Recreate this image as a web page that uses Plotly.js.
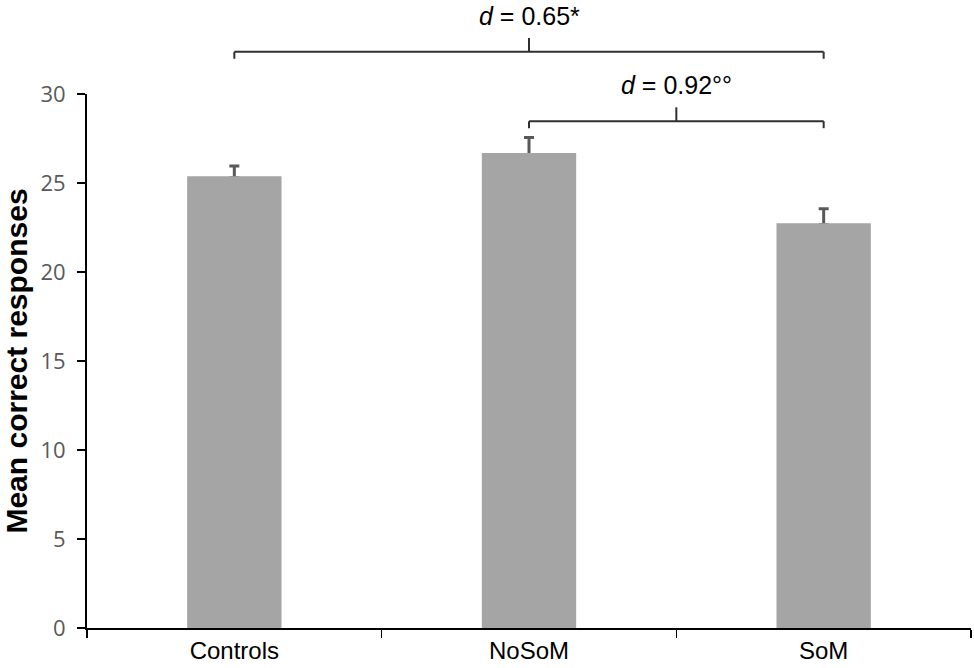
<!DOCTYPE html>
<html>
<head>
<meta charset="utf-8">
<script src="https://cdn.plot.ly/plotly-3.0.1.min.js"></script>
<style>
  html, body { margin: 0; padding: 0; background: #fff; }
  #chart { width: 974px; height: 668px; }
</style>
</head>
<body>
<div id="chart"></div>
<script>
let groups = ["Controls", "NoSoM", "SoM"];
let means = [25.3, 26.6, 22.65];
let errors = [0.65, 0.95, 0.9];
let y_ticks = [0, 5, 10, 15, 20, 25, 30];

// comparison brackets: from group, to group, label, level (paper units)
let bracket_from = ["Controls", "NoSoM"];
let bracket_to = ["SoM", "SoM"];
let bracket_text = ["<i>d</i> = 0.65*", "<i>d</i> = 0.92°°"];
let bracket_level = [1.079, 0.949];

let chart_holder = document.querySelector("#chart");
let bar_color = "#a5a5a5";

// bars with the plus-only error bars
let trace1 = {
    x: groups,
    y: means,
    type: "bar",
    width: 0.31,
    marker: { color: bar_color },
    error_y: {
        type: "data",
        symmetric: false,
        array: errors,
        arrayminus: [0, 0, 0],
        color: "#595959",
        thickness: 3,
        width: 5
    },
    hoverinfo: "none"
};

// same bars again on top, hides the lower cap of the error bar
let trace2 = {
    x: groups,
    y: means,
    type: "bar",
    width: 0.31,
    marker: { color: bar_color, line: { color: bar_color, width: 3 } },
    hoverinfo: "none"
};

let shapes = new Array();
let annotations = new Array();
let line_style = { color: "#303030", width: 2 };

for (let i = 0; i < bracket_from.length; i++) {
    let a = groups.indexOf(bracket_from[i]);
    let b = groups.indexOf(bracket_to[i]);
    let mid = (a + b) / 2;
    let lvl = bracket_level[i];
    shapes.push({ type: "line", xref: "x", yref: "paper", x0: a, x1: b, y0: lvl, y1: lvl, line: line_style });
    shapes.push({ type: "line", xref: "x", yref: "paper", x0: a, x1: a, y0: lvl, y1: lvl - 0.013, line: line_style });
    shapes.push({ type: "line", xref: "x", yref: "paper", x0: b, x1: b, y0: lvl, y1: lvl - 0.013, line: line_style });
    shapes.push({ type: "line", xref: "x", yref: "paper", x0: mid, x1: mid, y0: lvl, y1: lvl + 0.026, line: line_style });
    annotations.push({
        x: mid, y: lvl + 0.068, xref: "x", yref: "paper",
        text: bracket_text[i], showarrow: false,
        yanchor: "middle",
        font: { family: "Liberation Sans, Arial, sans-serif", size: 25, color: "#000" }
    });
}

let layout = {
    width: 974,
    height: 668,
    margin: { l: 87, r: 3, t: 94, b: 40 },
    paper_bgcolor: "#fff",
    plot_bgcolor: "#fff",
    showlegend: false,
    barmode: "overlay",
    xaxis: {
        type: "category",
        range: [-0.5, 2.5],
        showline: true,
        linecolor: "#000",
        linewidth: 2,
        ticks: "outside",
        tickson: "boundaries",
        ticklen: 8,
        tickwidth: 1.5,
        tickcolor: "#000",
        showgrid: false,
        zeroline: false,
        tickfont: { family: "Liberation Sans, Arial, sans-serif", size: 24, color: "#000" }
    },
    yaxis: {
        range: [0, 30],
        tickvals: y_ticks,
        showline: true,
        linecolor: "#000",
        linewidth: 2,
        ticks: "outside",
        ticklen: 8,
        tickwidth: 1.5,
        tickcolor: "#000",
        ticklabelstandoff: 7,
        showgrid: false,
        zeroline: false,
        tickfont: { family: "Open Sans, sans-serif", size: 22, color: "#595959" },
        title: {
            text: "<b>Mean correct responses</b>",
            standoff: 6,
            font: { family: "Liberation Sans, Arial, sans-serif", size: 30, color: "#000" }
        }
    },
    shapes: shapes,
    annotations: annotations
};

Plotly.newPlot(chart_holder, [trace1, trace2], layout, { displayModeBar: false, staticPlot: true });
</script>
</body>
</html>
